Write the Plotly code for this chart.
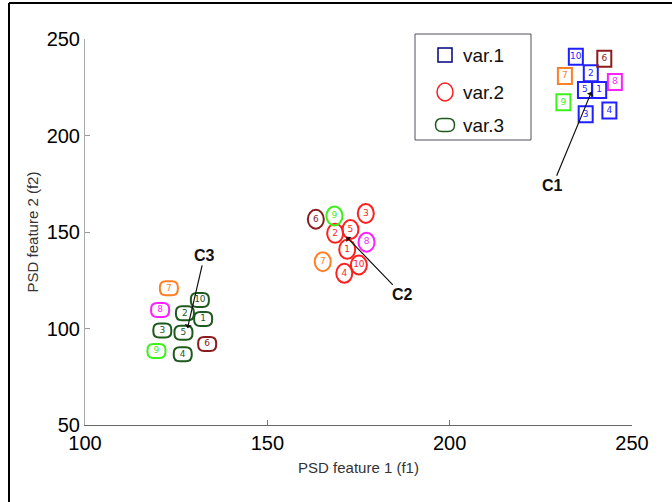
import plotly.graph_objects as go

# ---------------- data ----------------
samples = [1, 2, 3, 4, 5, 6, 7, 8, 9, 10]
sample_labels = ["1", "2", "3", "4", "5", "6", "7", "8", "9", "10"]

var1_x = [241.0, 238.7, 237.3, 243.8, 237.1, 242.4, 231.6, 245.3, 231.2, 234.6]
var1_y = [223.6, 232.2, 211.0, 212.9, 223.6, 239.8, 230.8, 227.7, 217.2, 240.8]

var2_x = [171.9, 168.6, 177.0, 171.1, 172.8, 163.3, 165.2, 177.2, 168.4, 175.1]
var2_y = [141.0, 149.3, 159.6, 128.6, 151.3, 156.6, 134.6, 144.7, 158.3, 132.9]

var3_x = [132.4, 127.4, 121.2, 126.8, 127.0, 133.5, 123.0, 120.6, 119.6, 131.5]
var3_y = [104.9, 107.9, 98.9, 86.6, 97.8, 92.0, 120.8, 109.6, 88.3, 114.8]

centroid_names = ["C1", "C2", "C3"]
centroid_x = [238.9, 171.7, 128.1]
centroid_y = [222.7, 147.5, 100.1]

series_names = ["var.1", "var.2", "var.3"]
x_ticks = [100, 150, 200, 250]
y_ticks = [50, 100, 150, 200, 250]

# ---------------- styles ----------------
base_colors = {"var.1": "#1f1fff", "var.2": "#ff1f1f", "var.3": "#1e5a1e"}
legend_colors = {"var.1": "#00007f", "var.2": "#ff1f1f", "var.3": "#1e5a1e"}
special_colors = {6: "#8c1c1c", 7: "#ff7f27", 8: "#ff1fff", 9: "#3cf01c"}

def sample_color(series, s):
    return special_colors.get(s, base_colors[series])

SQUARE = "M -7,8 L 7,8 L 7,-8 L -7,-8 Z"
ROUNDED = ("M -3,7 L 3,7 Q 9,7 9,1 L 9,-1 Q 9,-7 3,-7 L -3,-7 "
           "Q -9,-7 -9,-1 L -9,1 Q -9,7 -3,7 Z")

fig = go.Figure()
shapes = []

def marker_shape(kind, xa, ya, color, xref="x", yref="y", w=2):
    common = dict(xref=xref, yref=yref, xsizemode="pixel", ysizemode="pixel",
                  xanchor=xa, yanchor=ya, line=dict(color=color, width=w),
                  fillcolor="rgba(0,0,0,0)", layer="above")
    if kind == "square":
        return dict(type="path", path=SQUARE, **common)
    if kind == "circle":
        return dict(type="circle", x0=-8, x1=8, y0=-9.5, y1=9.5, **common)
    return dict(type="path", path=ROUNDED, **common)

series_data = [
    ("var.1", var1_x, var1_y, "square"),
    ("var.2", var2_x, var2_y, "circle"),
    ("var.3", var3_x, var3_y, "rounded"),
]

for name, xs, ys, kind in series_data:
    cols = [sample_color(name, s) for s in samples]
    for xv, yv, c in zip(xs, ys, cols):
        shapes.append(marker_shape(kind, xv, yv, c))
    fig.add_trace(go.Scatter(
        x=xs, y=ys, mode="text", text=sample_labels, name=name,
        textposition="middle center",
        textfont=dict(family="DejaVu Sans", size=9, color=cols),
        showlegend=False, hoverinfo="x+y+name"))

# ---------------- centroid annotations ----------------
offsets = [(-39, 94), (56, 58), (17, -73)]
annotations = []
for nm, cx, cy, (ax, ay) in zip(centroid_names, centroid_x, centroid_y, offsets):
    annotations.append(dict(
        x=cx, y=cy, xref="x", yref="y", text="<b>" + nm + "</b>",
        showarrow=True, ax=ax, ay=ay, arrowhead=1, arrowsize=1,
        arrowwidth=1.2, arrowcolor="#111111", standoff=0,
        font=dict(family="Liberation Sans", size=16, color="#111111")))

# ---------------- manual legend ----------------
L, R, T, B = 85, 632, 39, 425
W, H = R - L, B - T
def px(xp):
    return (xp - L) / W
def py(yp):
    return (B - yp) / H

shapes.append(dict(type="rect", xref="paper", yref="paper",
                   x0=px(415), x1=px(531), y0=py(140), y1=py(34),
                   line=dict(color="#505060", width=1), fillcolor="white",
                   layer="below"))
legend_kinds = ["square", "circle", "rounded"]
legend_rows = [55, 92, 125]
for nm, kind, ry in zip(series_names, legend_kinds, legend_rows):
    if kind == "square":
        shp = dict(type="path", path="M -7,7 L 7,7 L 7,-7 L -7,-7 Z")
    elif kind == "circle":
        shp = dict(type="circle", x0=-8, x1=8, y0=-9, y1=9)
    else:
        shp = dict(type="path", path=("M -3,6.5 L 3,6.5 Q 9.5,6.5 9.5,0 "
                                       "Q 9.5,-6.5 3,-6.5 L -3,-6.5 "
                                       "Q -9.5,-6.5 -9.5,0 Q -9.5,6.5 -3,6.5 Z"))
    shp.update(xref="paper", yref="paper", xsizemode="pixel", ysizemode="pixel",
               xanchor=px(445), yanchor=py(ry),
               line=dict(color=legend_colors[nm], width=1.5),
               fillcolor="rgba(0,0,0,0)")
    shapes.append(shp)
    annotations.append(dict(x=px(461), y=py(ry), xref="paper", yref="paper",
                            xanchor="left", yanchor="middle", text=nm,
                            showarrow=False,
                            font=dict(family="Liberation Sans", size=19,
                                      color="#111111")))

# ---------------- outer frame (top & left edges) ----------------
shapes.append(dict(type="line", xref="paper", yref="paper",
                   x0=px(9), x1=px(700), y0=py(3), y1=py(3),
                   line=dict(color="black", width=2)))
shapes.append(dict(type="line", xref="paper", yref="paper",
                   x0=px(9), x1=px(9), y0=py(3), y1=py(530),
                   line=dict(color="black", width=2)))

fig.update_layout(
    width=672, height=502, autosize=False,
    margin=dict(l=L, r=672 - R, t=T, b=502 - B),
    paper_bgcolor="white", plot_bgcolor="white",
    showlegend=False,
    shapes=shapes, annotations=annotations,
    xaxis=dict(range=[100, 250], tickvals=x_ticks, ticks="inside", ticklen=5,
               tickcolor="#777777", showline=True, linecolor="#666666",
               linewidth=1, showgrid=False, zeroline=False, mirror=False,
               tickfont=dict(family="Liberation Sans", size=20, color="black"),
               title=dict(text="PSD feature 1 (f1)", standoff=9,
                          font=dict(family="Liberation Sans", size=15,
                                    color="#333333"))),
    yaxis=dict(range=[50, 250], tickvals=y_ticks, ticks="inside", ticklen=5,
               tickcolor="#999999", showline=True, linecolor="#aaaaaa",
               linewidth=1, showgrid=False, zeroline=False, mirror=False,
               tickfont=dict(family="Liberation Sans", size=20, color="black"),
               title=dict(text="PSD feature 2 (f2)", standoff=4,
                          font=dict(family="Liberation Sans", size=15,
                                    color="#333333"))),
)

fig.write_html("out.html", config={"displayModeBar": False},
               post_script="document.body.style.margin='0';")
